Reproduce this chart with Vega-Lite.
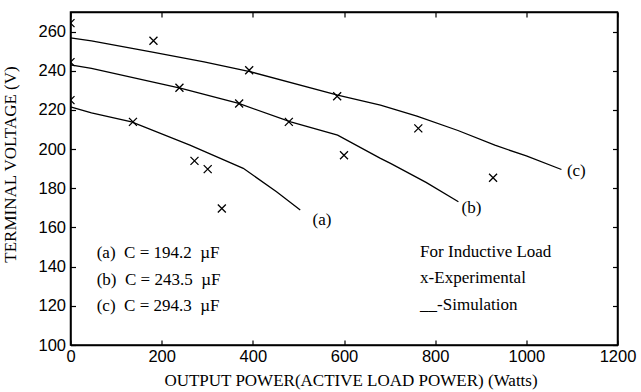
{
  "$schema": "https://vega.github.io/schema/vega-lite/v6.json",
  "width": 547,
  "height": 333,
  "autosize": {"type": "none"},
  "padding": {"left": 70.5, "top": 12, "right": 23.5, "bottom": 47},
  "background": "white",
  "config": {
    "view": {"stroke": "black", "strokeWidth": 1.5},
    "axis": {
      "grid": false,
      "domainColor": "black",
      "domainWidth": 1.5,
      "tickColor": "black",
      "tickWidth": 1.2,
      "labelColor": "black",
      "labelFont": "Liberation Sans",
      "labelFontSize": 16.5,
      "labelFlush": false,
      "labelOverlap": false,
      "format": "d",
      "titleColor": "black",
      "titleFont": "Liberation Serif",
      "titleFontSize": 17,
      "titleFontWeight": "normal"
    }
  },
  "datasets": {
    "curves": [
      {"series": "a", "P": 0, "V": 221.6},
      {"series": "a", "P": 46, "V": 218.5},
      {"series": "a", "P": 134, "V": 213.9},
      {"series": "a", "P": 262, "V": 202.0},
      {"series": "a", "P": 379, "V": 190.2},
      {"series": "a", "P": 452, "V": 178.2},
      {"series": "a", "P": 504, "V": 168.9},
      {"series": "b", "P": 0, "V": 243.0},
      {"series": "b", "P": 46, "V": 241.2},
      {"series": "b", "P": 243, "V": 231.0},
      {"series": "b", "P": 369, "V": 223.3},
      {"series": "b", "P": 483, "V": 213.9},
      {"series": "b", "P": 586, "V": 207.1},
      {"series": "b", "P": 680, "V": 195.3},
      {"series": "b", "P": 702, "V": 192.7},
      {"series": "b", "P": 780, "V": 183.0},
      {"series": "b", "P": 851, "V": 173.1},
      {"series": "c", "P": 0, "V": 256.8},
      {"series": "c", "P": 46, "V": 255.3},
      {"series": "c", "P": 177, "V": 249.6},
      {"series": "c", "P": 293, "V": 244.5},
      {"series": "c", "P": 396, "V": 239.4},
      {"series": "c", "P": 586, "V": 227.6},
      {"series": "c", "P": 680, "V": 222.5},
      {"series": "c", "P": 760, "V": 216.8},
      {"series": "c", "P": 850, "V": 209.5},
      {"series": "c", "P": 931, "V": 202.0},
      {"series": "c", "P": 1000, "V": 196.5},
      {"series": "c", "P": 1077, "V": 189.6}
    ],
    "points": [
      {"P": 0, "V": 264.3},
      {"P": 0, "V": 244.4},
      {"P": 0, "V": 225.0},
      {"P": 182, "V": 255.3},
      {"P": 392, "V": 240.3},
      {"P": 239, "V": 231.3},
      {"P": 370, "V": 223.3},
      {"P": 137, "V": 213.9},
      {"P": 585, "V": 227.0},
      {"P": 479, "V": 213.9},
      {"P": 600, "V": 196.9},
      {"P": 272, "V": 194.0},
      {"P": 301, "V": 189.8},
      {"P": 332, "V": 169.7},
      {"P": 763, "V": 210.6},
      {"P": 927, "V": 185.4}
    ],
    "labels": [
      {"P": 531, "V": 163.8, "label": "(a)"},
      {"P": 858, "V": 169.7, "label": "(b)"},
      {"P": 1089, "V": 188.9, "label": "(c)"},
      {"P": 57.5, "V": 147.0, "label": "(a)\u00a0 C = 194.2\u00a0 µF"},
      {"P": 57.5, "V": 133.2, "label": "(b)\u00a0 C = 243.5\u00a0 µF"},
      {"P": 57.5, "V": 120.0, "label": "(c)\u00a0 C = 294.3\u00a0 µF"},
      {"P": 767, "V": 147.6, "label": "For Inductive Load"},
      {"P": 767, "V": 134.0, "label": "x-Experimental"},
      {"P": 767, "V": 120.4, "label": "__-Simulation"}
    ]
  },
  "layer": [
    {
      "data": {"name": "curves"},
      "mark": {"type": "line", "color": "black", "strokeWidth": 1.3, "clip": true},
      "encoding": {
        "x": {
          "field": "P", "type": "quantitative",
          "scale": {"domain": [0, 1200], "nice": false, "zero": false},
          "axis": {"values": [0, 200, 400, 600, 800, 1000, 1200], "tickSize": -5, "labelPadding": 8, "title": "OUTPUT POWER(ACTIVE LOAD POWER) (Watts)", "titlePadding": 8, "titleX": 280}
        },
        "y": {
          "field": "V", "type": "quantitative",
          "scale": {"domain": [100, 270], "nice": false, "zero": false},
          "axis": {"values": [100, 120, 140, 160, 180, 200, 220, 240, 260], "tickSize": -5, "labelPadding": 10, "title": "TERMINAL VOLTAGE (V)", "titlePadding": 18, "titleY": 152}
        },
        "detail": {"field": "series"}
      }
    },
    {
      "data": {"name": "points"},
      "mark": {"type": "point", "shape": "M-1,-1L1,1M-1,1L1,-1", "size": 64, "filled": false, "stroke": "black", "strokeWidth": 1.3, "clip": true, "opacity": 1},
      "encoding": {
        "x": {
          "field": "P", "type": "quantitative",
          "scale": {"domain": [0, 1200], "nice": false, "zero": false},
          "axis": {"orient": "top", "values": [0, 200, 400, 600, 800, 1000, 1200], "tickSize": -5, "labels": false, "title": null}
        },
        "y": {
          "field": "V", "type": "quantitative",
          "scale": {"domain": [100, 270], "nice": false, "zero": false},
          "axis": {"orient": "right", "values": [100, 120, 140, 160, 180, 200, 220, 240, 260], "tickSize": -5, "labels": false, "title": null}
        }
      }
    },
    {
      "data": {"name": "labels"},
      "mark": {"type": "text", "align": "left", "baseline": "middle", "font": "Liberation Serif", "fontSize": 17, "color": "black"},
      "encoding": {
        "x": {"field": "P", "type": "quantitative", "scale": {"domain": [0, 1200], "nice": false, "zero": false}, "axis": null},
        "y": {"field": "V", "type": "quantitative", "scale": {"domain": [100, 270], "nice": false, "zero": false}, "axis": null},
        "text": {"field": "label"}
      }
    }
  ],
  "resolve": {"scale": {"x": "independent", "y": "independent"}}
}
